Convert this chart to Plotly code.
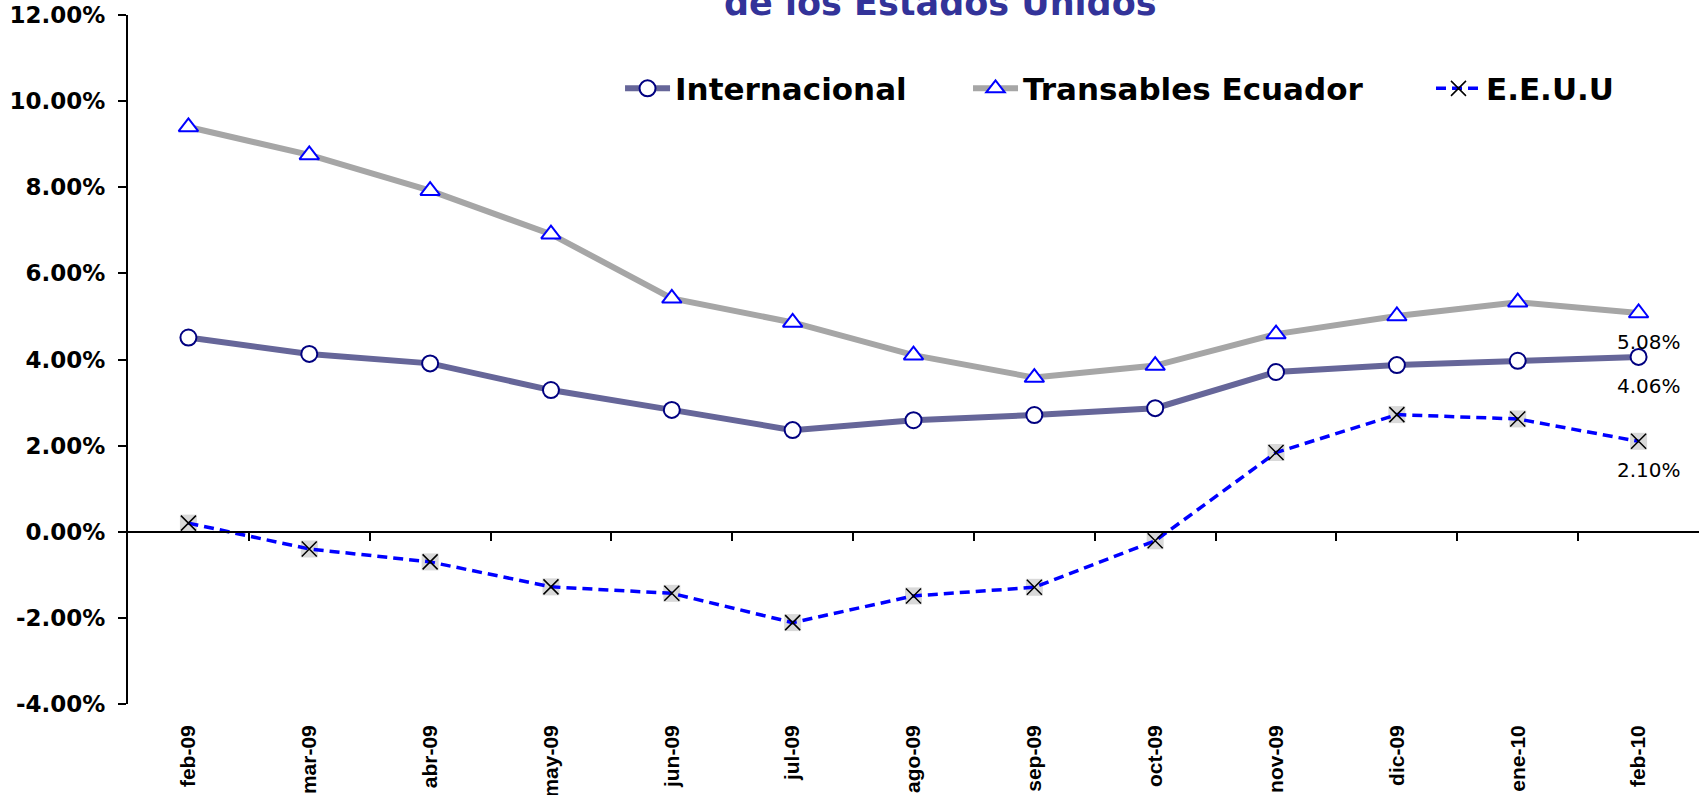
import plotly.graph_objects as go

months = ['feb-09', 'mar-09', 'abr-09', 'may-09', 'jun-09', 'jul-09', 'ago-09',
          'sep-09', 'oct-09', 'nov-09', 'dic-09', 'ene-10', 'feb-10']
internacional = [4.51, 4.13, 3.91, 3.29, 2.83, 2.36, 2.59, 2.71, 2.87, 3.71, 3.87, 3.97, 4.06]
transables = [9.40, 8.75, 7.92, 6.91, 5.42, 4.86, 4.10, 3.58, 3.86, 4.59, 5.01, 5.33, 5.08]
eeuu = [0.20, -0.40, -0.70, -1.28, -1.43, -2.11, -1.49, -1.29, -0.21, 1.84, 2.72, 2.62, 2.10]
y_ticks = [-4, -2, 0, 2, 4, 6, 8, 10, 12]

xs = list(range(len(months)))

fig = go.Figure()

fig.add_trace(go.Scatter(
    x=xs, y=internacional, name='Internacional', legend='legend',
    mode='lines+markers',
    line=dict(color='#666699', width=6),
    marker=dict(symbol='circle', size=16, color='white',
                line=dict(color='#000080', width=2)),
))

fig.add_trace(go.Scatter(
    x=xs, y=transables, name='Transables Ecuador', legend='legend2',
    mode='lines+markers',
    line=dict(color='#A6A6A6', width=6),
    marker=dict(symbol='triangle-up', size=17, color='white',
                line=dict(color='#0000FF', width=2)),
))

# grey square behind the cross markers
fig.add_trace(go.Scatter(
    x=xs, y=eeuu, mode='markers', showlegend=False, hoverinfo='skip',
    marker=dict(symbol='square', size=17, color='#D9D9D9'),
))

fig.add_trace(go.Scatter(
    x=xs, y=eeuu, name='E.E.U.U', legend='legend3',
    mode='lines+markers',
    line=dict(color='#0000FF', width=3.5, dash='10px,6px'),
    marker=dict(symbol='x-thin', size=15, color='black',
                line=dict(color='black', width=1.5)),
))

# axis line with boundary ticks at y = 0
fig.add_trace(go.Scatter(x=[], y=[], xaxis='x2', showlegend=False))

# value labels on the last point of each series
for series in (transables, internacional, eeuu):
    fig.add_annotation(
        x=xs[-1], y=series[-1], text='%.2f%%' % series[-1],
        showarrow=False, xanchor='center', yanchor='top',
        xshift=10, yshift=-15,
        font=dict(family='DejaVu Sans', size=20, color='black'),
    )

fig.add_annotation(
    text='<b>de los Estados Unidos</b>',
    xref='paper', yref='paper', x=0.517, y=1, yanchor='bottom', yshift=-10,
    showarrow=False,
    font=dict(family='DejaVu Sans', size=35, color='#333399'),
)

legend_style = dict(
    orientation='h', y=0.893, xanchor='left', yanchor='middle',
    font=dict(family='DejaVu Sans', size=31, color='black', weight='bold'),
    bgcolor='rgba(0,0,0,0)', itemwidth=45,
)

fig.update_layout(
    width=1699, height=795,
    margin=dict(l=128, r=0, t=15, b=91),
    paper_bgcolor='white', plot_bgcolor='white',
    showlegend=True,
    legend=dict(x=0.3132, **legend_style),
    legend2=dict(x=0.5347, **legend_style),
    legend3=dict(x=0.8294, **legend_style),
    xaxis=dict(
        range=[-0.5, len(months) - 0.5], automargin=False,
        tickmode='array', tickvals=xs, ticktext=['<b>%s</b>' % m for m in months],
        tickangle=-90, ticks='', showline=False, showgrid=False, zeroline=False,
        ticklabelstandoff=16,
        tickfont=dict(family='Liberation Sans', size=21, color='black'),
    ),
    xaxis2=dict(
        overlaying='x', anchor='free', position=0.25, automargin=False,
        range=[-0.5, len(months) - 0.5],
        tickmode='array', tickvals=[i + 0.5 for i in xs[:-1]],
        ticks='outside', ticklen=8, tickwidth=2, tickcolor='black',
        showticklabels=False, showline=True, linecolor='black', linewidth=2,
        showgrid=False, zeroline=False,
    ),
    yaxis=dict(
        range=[-4, 12], automargin=False, tickmode='array', tickvals=y_ticks,
        ticktext=['<b>%.2f%%</b>' % v for v in y_ticks],
        ticks='outside', ticklen=8, tickwidth=2, tickcolor='black',
        showline=True, linecolor='black', linewidth=2,
        showgrid=False, zeroline=False, ticklabelstandoff=8,
        tickfont=dict(family='DejaVu Sans', size=23, color='black'),
    ),
)

fig.write_html('out.html', config={'displayModeBar': False},
               post_script="document.body.style.margin = '0';")
